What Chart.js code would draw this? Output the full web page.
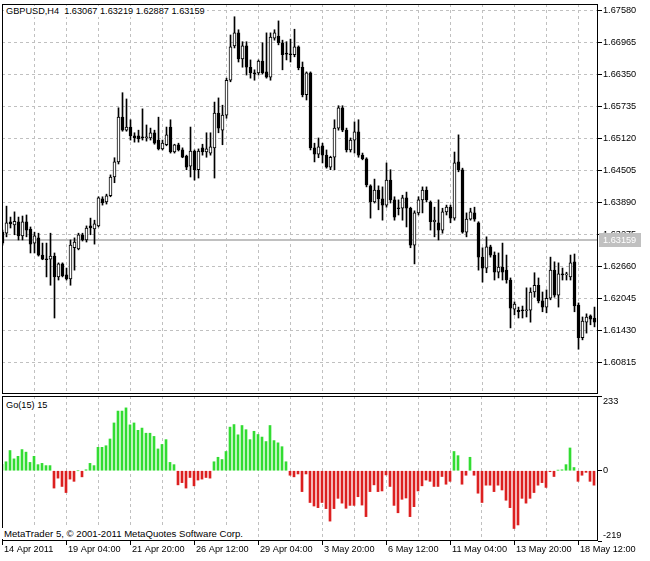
<!DOCTYPE html>
<html>
<head>
  <title>GBPUSD,H4 - Go(15)</title>
  <script src="https://cdn.jsdelivr.net/npm/chart.js"></script>
  <style>
    body { margin: 0; background: #fff; }
    #wrap { position: relative; width: 650px; height: 561px; }
    canvas { position: absolute; left: 0; }
    .txt { position: absolute; background: #fff; color: #000; white-space: pre;
           font: 9.2px 'Liberation Sans', Arial, sans-serif; line-height: 11px; padding: 0 2px; }
  </style>
</head>
<body>
<div id="wrap">
  <canvas id="priceChart" width="650" height="395" style="top:0"></canvas>
  <canvas id="goChart" width="650" height="166" style="top:395px"></canvas>
  <div class="txt" style="left:4px;top:6px">GBPUSD,H4  1.63067 1.63219 1.62887 1.63159</div>
  <div class="txt" style="left:4px;top:400px">Go(15) 15</div>
  <div class="txt" style="left:2px;top:528px;font-size:9.6px">MetaTrader 5, © 2001-2011 MetaQuotes Software Corp.</div>
</div>
<script>
  // H4 candles, one entry per bar (bar 0 = 14 Apr 12:00)
  const opens = [
    1.6332,1.6330,1.6352,1.6346,1.6352,1.6325,1.6352,1.6338,1.6311,1.6321,
    1.6288,1.6280,1.6280,1.6286,1.6246,1.6271,1.6250,1.6242,1.6302,1.6300,
    1.6327,1.6317,1.6344,1.6338,1.6344,1.6396,1.6390,1.6402,1.6438,1.6467,
    1.6553,1.6528,1.6534,1.6517,1.6517,1.6515,1.6513,1.6513,1.6523,1.6509,
    1.6492,1.6500,1.6534,1.6486,1.6500,1.6490,1.6478,1.6459,1.6488,1.6452,
    1.6494,1.6486,1.6484,1.6494,1.6561,1.6528,1.6557,1.6624,1.6690,1.6715,
    1.6665,1.6690,1.6649,1.6638,1.6638,1.6661,1.6640,1.6630,1.6705,1.6709,
    1.6696,1.6676,1.6674,1.6673,1.6688,1.6649,1.6596,1.6638,1.6494,1.6482,
    1.6498,1.6480,1.6457,1.6476,1.6532,1.6571,1.6528,1.6490,1.6509,1.6525,
    1.6480,1.6473,1.6421,1.6390,1.6413,1.6396,1.6384,1.6432,1.6394,1.6378,
    1.6378,1.6398,1.6378,1.6307,1.6369,1.6394,1.6413,1.6390,1.6352,1.6350,
    1.6336,1.6371,1.6380,1.6359,1.6467,1.6452,1.6332,1.6357,1.6369,1.6350,
    1.6284,1.6263,1.6304,1.6288,1.6255,1.6265,1.6259,1.6240,1.6184,1.6182,
    1.6182,1.6181,1.6182,1.6217,1.6230,1.6200,1.6188,1.6205,1.6259,1.6211,
    1.6252,1.6250,1.6246,1.6275,1.6192,1.6129,1.6159,1.6171,1.6167
  ];
  const highs = [
    1.6336,1.6382,1.6361,1.6371,1.6361,1.6363,1.6365,1.6342,1.6332,1.6330,
    1.6311,1.6311,1.6330,1.6292,1.6273,1.6273,1.6263,1.6317,1.6321,1.6330,
    1.6330,1.6344,1.6359,1.6355,1.6400,1.6400,1.6405,1.6442,1.6475,1.6571,
    1.6600,1.6588,1.6548,1.6523,1.6528,1.6569,1.6538,1.6532,1.6528,1.6553,
    1.6509,1.6534,1.6548,1.6501,1.6503,1.6494,1.6480,1.6534,1.6490,1.6492,
    1.6501,1.6523,1.6523,1.6582,1.6590,1.6576,1.6628,1.6711,1.6746,1.6721,
    1.6698,1.6698,1.6663,1.6644,1.6663,1.6696,1.6715,1.6715,1.6721,1.6738,
    1.6701,1.6698,1.6703,1.6722,1.6690,1.6659,1.6640,1.6640,1.6503,1.6513,
    1.6503,1.6490,1.6478,1.6548,1.6575,1.6575,1.6532,1.6513,1.6544,1.6548,
    1.6484,1.6475,1.6423,1.6434,1.6421,1.6419,1.6465,1.6452,1.6400,1.6394,
    1.6403,1.6409,1.6380,1.6373,1.6400,1.6419,1.6419,1.6392,1.6380,1.6394,
    1.6378,1.6384,1.6384,1.6486,1.6519,1.6455,1.6369,1.6378,1.6380,1.6352,
    1.6302,1.6323,1.6307,1.6294,1.6292,1.6311,1.6288,1.6244,1.6198,1.6188,
    1.6190,1.6225,1.6225,1.6254,1.6244,1.6217,1.6221,1.6284,1.6275,1.6273,
    1.6263,1.6255,1.6288,1.6290,1.6196,1.6169,1.6175,1.6173,1.6188
  ];
  const lows = [
    1.6307,1.6323,1.6340,1.6327,1.6317,1.6317,1.6323,1.6292,1.6292,1.6286,
    1.6279,1.6246,1.6230,1.6167,1.6240,1.6246,1.6240,1.6230,1.6259,1.6298,
    1.6315,1.6313,1.6327,1.6309,1.6342,1.6384,1.6386,1.6400,1.6427,1.6463,
    1.6526,1.6526,1.6509,1.6505,1.6505,1.6509,1.6507,1.6509,1.6501,1.6490,
    1.6490,1.6498,1.6484,1.6484,1.6488,1.6475,1.6452,1.6438,1.6432,1.6436,
    1.6480,1.6476,1.6480,1.6436,1.6523,1.6500,1.6551,1.6621,1.6686,1.6659,
    1.6649,1.6634,1.6628,1.6624,1.6634,1.6636,1.6628,1.6624,1.6701,1.6692,
    1.6644,1.6663,1.6659,1.6669,1.6644,1.6592,1.6586,1.6490,1.6467,1.6475,
    1.6465,1.6455,1.6452,1.6452,1.6528,1.6525,1.6486,1.6486,1.6484,1.6476,
    1.6471,1.6419,1.6359,1.6388,1.6375,1.6355,1.6380,1.6388,1.6355,1.6365,
    1.6355,1.6342,1.6302,1.6271,1.6365,1.6369,1.6390,1.6336,1.6323,1.6317,
    1.6330,1.6365,1.6350,1.6355,1.6448,1.6330,1.6323,1.6355,1.6353,1.6259,
    1.6236,1.6254,1.6284,1.6240,1.6244,1.6240,1.6234,1.6148,1.6173,1.6167,
    1.6167,1.6169,1.6159,1.6207,1.6196,1.6179,1.6177,1.6202,1.6207,1.6188,
    1.6240,1.6240,1.6240,1.6179,1.6107,1.6125,1.6138,1.6154,1.6150
  ];
  const closes = [
    1.6311,1.6350,1.6348,1.6353,1.6325,1.6352,1.6336,1.6309,1.6325,1.6288,
    1.6280,1.6279,1.6286,1.6246,1.6271,1.6248,1.6242,1.6307,1.6313,1.6327,
    1.6317,1.6340,1.6340,1.6348,1.6398,1.6388,1.6402,1.6438,1.6467,1.6553,
    1.6528,1.6534,1.6517,1.6513,1.6511,1.6513,1.6515,1.6523,1.6503,1.6492,
    1.6503,1.6519,1.6486,1.6500,1.6490,1.6476,1.6457,1.6488,1.6452,1.6488,
    1.6486,1.6492,1.6496,1.6561,1.6532,1.6557,1.6624,1.6688,1.6715,1.6665,
    1.6690,1.6649,1.6638,1.6636,1.6661,1.6638,1.6630,1.6707,1.6715,1.6696,
    1.6673,1.6674,1.6673,1.6688,1.6648,1.6596,1.6638,1.6494,1.6482,1.6496,
    1.6480,1.6457,1.6476,1.6532,1.6571,1.6528,1.6490,1.6509,1.6525,1.6480,
    1.6473,1.6423,1.6390,1.6413,1.6396,1.6384,1.6432,1.6394,1.6361,1.6377,
    1.6398,1.6378,1.6307,1.6369,1.6394,1.6413,1.6394,1.6352,1.6355,1.6336,
    1.6371,1.6380,1.6359,1.6465,1.6452,1.6332,1.6357,1.6371,1.6357,1.6284,
    1.6263,1.6304,1.6288,1.6255,1.6265,1.6255,1.6240,1.6186,1.6194,1.6179,
    1.6181,1.6182,1.6217,1.6230,1.6200,1.6188,1.6205,1.6259,1.6211,1.6252,
    1.6250,1.6252,1.6273,1.6190,1.6129,1.6161,1.6169,1.6165,1.6159
  ];
  // Go(15) histogram
  const goValues = [
    20,28,63,37,45,66,58,26,45,19,
    23,16,16,-54,-23,-49,-68,-26,-33,0,
    -19,3,23,16,73,73,78,99,149,186,
    186,196,143,149,126,133,117,117,107,68,
    82,97,26,19,-44,-37,-54,-21,-47,-29,
    -26,-21,-23,28,42,35,60,136,144,112,
    141,128,97,123,113,105,91,141,94,87,
    75,28,-14,-19,-10,-65,-10,-99,-110,-115,
    -99,-118,-157,-118,-86,-101,-117,-108,-108,-81,
    -107,-143,-65,-44,-65,-63,-13,-49,-108,-131,
    -89,-85,-143,-112,-63,-47,-29,-33,-49,-49,
    -18,-42,-33,60,47,-42,-14,42,-14,-70,
    -99,-45,-45,-65,-45,-60,-92,-115,-180,-169,
    -86,-101,-86,-68,-45,-37,-52,-3,-18,2,
    3,19,71,10,-33,-14,-5,-33,-45
  ];

  const priceTicks = [1.60815,1.61430,1.62045,1.62660,1.63275,1.63890,1.64505,1.65120,1.65735,1.66350,1.66965,1.67580];
  const goTicks = [-219, 0, 233];
  const bidPrice = 1.63159;
  const gridBars = [0,8,16,24,32,40,48,56,64,72,80,88,96,104,112,120,128,136,144];
  const timeTickBars = [0,16,32,48,64,80,96,112,128,144];
  const timeTickLabels = ['14 Apr 2011','19 Apr 04:00','21 Apr 20:00','26 Apr 12:00','29 Apr 04:00',
                          '3 May 20:00','6 May 12:00','11 May 04:00','13 May 20:00','18 May 12:00'];

  const FONT = { family: "'Liberation Sans', Arial, sans-serif", size: 9.2 };
  const GRID = '#c0c0c0';
  const GREEN = '#32dc32';
  const RED = '#dc2020';

  const frame = {
    id: 'frame',
    afterDraw(chart) {
      const a = chart.chartArea, ctx = chart.ctx;
      ctx.save();
      ctx.strokeStyle = '#000';
      ctx.lineWidth = 1;
      ctx.strokeRect(a.left + 0.5, a.top + 0.5, a.right - a.left - 1, a.bottom - a.top - 1);
      ctx.restore();
    }
  };

  const bidLine = {
    id: 'bidLine',
    beforeDatasetsDraw(chart) {
      const a = chart.chartArea, ctx = chart.ctx;
      const y = Math.floor(chart.scales.y.getPixelForValue(bidPrice));
      ctx.save();
      ctx.fillStyle = GRID;
      ctx.fillRect(a.left, y - 1, a.right - a.left, 2);
      ctx.restore();
    },
    afterDraw(chart) {
      const a = chart.chartArea, ctx = chart.ctx;
      const y = Math.floor(chart.scales.y.getPixelForValue(bidPrice));
      ctx.save();
      ctx.fillStyle = GRID;
      ctx.fillRect(a.right + 1, y - 7, 42, 14);
      ctx.fillStyle = '#fff';
      ctx.font = FONT.size + 'px ' + FONT.family;
      ctx.textBaseline = 'middle';
      ctx.fillText(bidPrice.toFixed(5), a.right + 5, y);
      ctx.restore();
    }
  };

  function setTicks(list) {
    return s => { s.ticks = list.map(v => ({ value: v })); };
  }

  new Chart(document.getElementById('priceChart'), {
    type: 'bar',
    data: {
      datasets: [
        {
          label: 'body',
          data: opens.map((o, i) => ({ x: i, y: [o, closes[i]] })),
          backgroundColor: opens.map((o, i) => closes[i] >= o ? '#fff' : '#000'),
          borderColor: '#000',
          borderWidth: 1,
          borderSkipped: false,
          barThickness: 3,
          minBarLength: 1,
          grouped: false,
          order: 0
        },
        {
          label: 'wick',
          data: lows.map((l, i) => ({ x: i, y: [l, highs[i]] })),
          backgroundColor: '#000',
          borderWidth: 0,
          barThickness: 1,
          grouped: false,
          order: 1
        }
      ]
    },
    options: {
      responsive: false,
      animation: false,
      layout: { padding: { left: 2, top: 4, right: 0, bottom: 0 }, autoPadding: false },
      plugins: { legend: { display: false }, tooltip: { enabled: false } },
      scales: {
        x: {
          type: 'linear', min: -0.125, max: 148.875, offset: false,
          grid: { color: GRID, offset: false, drawTicks: false },
          border: { display: false, dash: [3, 3] },
          ticks: { display: false },
          afterBuildTicks: setTicks(gridBars),
          afterFit: s => { s.height = 1; s.paddingLeft = 0; s.paddingRight = 0; }
        },
        y: {
          type: 'linear', position: 'right', min: 1.602096, max: 1.677049,
          grid: { color: GRID, tickColor: '#000', tickLength: 4, tickBorderDash: [] },
          border: { display: false, dash: [3, 3] },
          ticks: { font: FONT, color: '#000', padding: 1, callback: v => v.toFixed(5) },
          afterBuildTicks: setTicks(priceTicks),
          afterFit: s => { s.width = 52; s.paddingTop = 0; s.paddingBottom = 0; }
        }
      }
    },
    plugins: [bidLine, frame]
  });

  new Chart(document.getElementById('goChart'), {
    type: 'bar',
    data: {
      datasets: [{
        label: 'Go(15)',
        data: goValues.map((v, i) => ({ x: i, y: v })),
        backgroundColor: goValues.map(v => v >= 0 ? GREEN : RED),
        borderWidth: 0,
        barThickness: 2
      }]
    },
    options: {
      responsive: false,
      animation: false,
      layout: { padding: { left: 2, top: 1, right: 0, bottom: 0 }, autoPadding: false },
      plugins: { legend: { display: false }, tooltip: { enabled: false } },
      scales: {
        x: {
          type: 'linear', min: 0, max: 149, offset: false,
          grid: {
            color: GRID, offset: false, tickLength: 4, tickBorderDash: [],
            tickColor: c => (c.tick && timeTickBars.includes(c.tick.value)) ? '#000' : 'rgba(0,0,0,0)'
          },
          border: { display: false, dash: [3, 3] },
          ticks: {
            font: FONT, color: '#000', align: 'start', labelOffset: 2, padding: -1,
            maxRotation: 0, autoSkip: false,
            callback: v => { const k = timeTickBars.indexOf(v); return k >= 0 ? timeTickLabels[k] : ''; }
          },
          afterBuildTicks: setTicks(gridBars),
          afterFit: s => { s.height = 20; s.paddingLeft = 0; s.paddingRight = 0; }
        },
        y: {
          type: 'linear', position: 'right', min: goTicks[0], max: goTicks[goTicks.length - 1],
          grid: { drawOnChartArea: false, tickColor: '#000', tickLength: 4 },
          border: { display: false },
          ticks: {
            font: FONT, color: '#000', padding: 1,
            callback: v => v === goTicks[goTicks.length - 1] ? ['', String(v)]
                         : v === goTicks[0] ? [String(v), ''] : String(v)
          },
          afterBuildTicks: setTicks(goTicks),
          afterFit: s => { s.width = 52; s.paddingTop = 0; s.paddingBottom = 0; }
        }
      }
    },
    plugins: [frame]
  });
</script>
</body>
</html>
